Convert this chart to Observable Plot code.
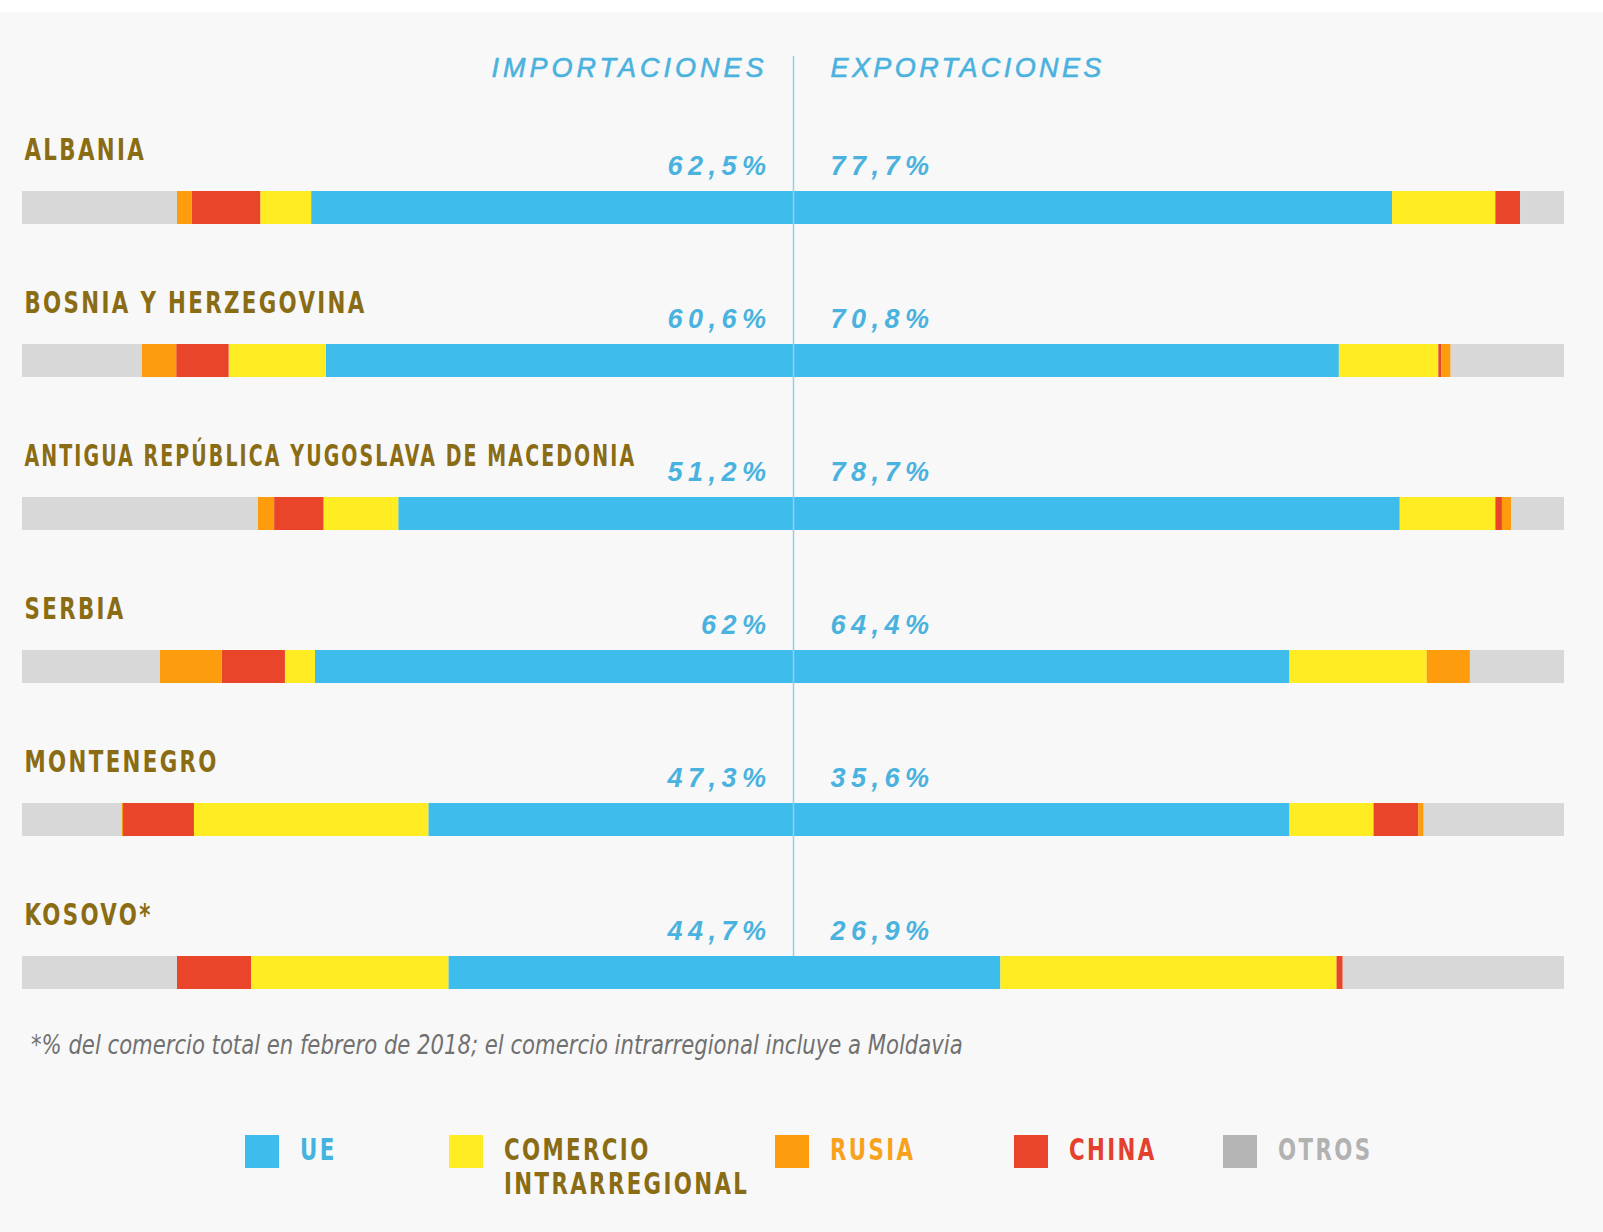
<!DOCTYPE html>
<html>
<head>
<meta charset="utf-8">
<script src="https://cdn.jsdelivr.net/npm/d3@7"></script>
<script src="https://cdn.jsdelivr.net/npm/@observablehq/plot@0.6"></script>
<style>
  html, body { margin: 0; padding: 0; }
  body {
    width: 1603px; height: 1232px; overflow: hidden; position: relative;
    background: linear-gradient(#ffffff 0 12px, #f8f8f8 12px);
  }
  #chart svg { display: block; }
  .foot {
    position: absolute; left: 31px; top: 1029px; line-height: 32px;
    font-family: "DejaVu Sans Condensed", "Liberation Sans Narrow", sans-serif;
    font-style: italic; font-size: 26px; color: #707070; white-space: nowrap;
    transform: scaleX(0.905); transform-origin: 0 50%;
  }
  .lg-sw { position: absolute; top: 1135px; width: 34px; height: 33px; }
  .lg-tx {
    position: absolute; top: 1133px; line-height: 34px; white-space: nowrap;
    font-family: "DejaVu Sans Condensed", "Liberation Sans Narrow", sans-serif;
    font-weight: bold; font-size: 30px; letter-spacing: 3px;
    transform: scaleX(0.79); transform-origin: 0 50%;
  }
</style>
</head>
<body>
<div id="chart"></div>
<div id="legend"></div>
<script>
// ---- data ----
const countries = [
  "ALBANIA",
  "BOSNIA Y HERZEGOVINA",
  "ANTIGUA REPÚBLICA YUGOSLAVA DE MACEDONIA",
  "SERBIA",
  "MONTENEGRO",
  "KOSOVO*"
];
const categories = ["UE", "Comercio intrarregional", "China", "Rusia", "Otros"];
const categoryColors = ["#3ebcec", "#ffec22", "#e8452a", "#fd9c0c", "#d8d8d8"];

// Importaciones (% of total), from centre outward
const importUE     = [62.5, 60.6, 51.2, 62.0, 47.3, 44.7];
const importIntra  = [ 6.6, 12.6,  9.7,  3.9, 30.4, 25.6];
const importChina  = [ 8.9,  6.8,  6.4,  8.2,  9.2,  9.6];
const importRusia  = [ 1.9,  4.5,  2.1,  8.0,  0.2,  0.0];
const importOtros  = [20.1, 15.5, 30.6, 17.9, 12.9, 20.1];

// Exportaciones (% of total), bar lengths as drawn
const exportUE     = [77.7, 70.8, 78.7, 64.4, 64.4, 26.9];
const exportIntra  = [13.4, 12.9, 12.4, 17.8, 10.9, 43.6];
const exportChina  = [ 3.2,  0.4,  0.85, 0.0,  5.8,  0.8];
const exportRusia  = [ 0.0,  1.2,  1.2,  5.6,  0.7,  0.0];
const exportOtros  = [ 5.7, 14.7,  6.85,12.2, 18.2, 28.7];

// Printed labels
const importLabels = ["62,5%", "60,6%", "51,2%", "62%", "47,3%", "44,7%"];
const exportLabels = ["77,7%", "70,8%", "78,7%", "64,4%", "35,6%", "26,9%"];

const sideHeaders = ["IMPORTACIONES", "EXPORTACIONES"];
const footnote = "*% del comercio total en febrero de 2018; el comercio intrarregional incluye a Moldavia";
const legendLabels = ["UE", "COMERCIO\nINTRARREGIONAL", "RUSIA", "CHINA", "OTROS"];
const legendTextColors = ["#45b3df", "#8a6c14", "#f7a11c", "#e4402e", "#b2b2b2"];
const legendSwatchColors = ["#3ebcec", "#ffec22", "#fd9c0c", "#e8452a", "#b4b4b4"];

// ---- build table ----
const impSeries = [importUE, importIntra, importChina, importRusia, importOtros];
const expSeries = [exportUE, exportIntra, exportChina, exportRusia, exportOtros];
const rows = [];
countries.forEach((c, i) => {
  categories.forEach((cat, k) => {
    rows.push({country: c, cat, side: "imp", value: -impSeries[k][i]});
    rows.push({country: c, cat, side: "exp", value: expSeries[k][i]});
  });
});
const labelRows = countries.map((c, i) => ({country: c, imp: importLabels[i], exp: exportLabels[i]}));

const blueText = "#4ab2de";
const olive = "#8a6c14";
const pctFont = "Liberation Sans, Arial, sans-serif";
const condFont = "DejaVu Sans Condensed, Liberation Sans Narrow, sans-serif";

const plot = Plot.plot({
  width: 1603,
  height: 1010,
  marginLeft: 22,
  marginRight: 39,
  marginTop: 0,
  marginBottom: 0,
  style: {background: "transparent", overflow: "visible"},
  x: {domain: [-100, 100], axis: null},
  y: {domain: countries, range: [131, 1049.6], padding: 0, axis: null},
  color: {domain: categories, range: categoryColors},
  marks: [
    Plot.barX(rows, Plot.stackX({
      x: "value", y: "country", fill: "cat", z: d => d.side + d.cat,
      order: null,
      insetTop: 60, insetBottom: 60
    })),
    Plot.ruleX([0], {stroke: "#94cfe8", strokeWidth: 1.5, insetTop: 56, insetBottom: 54}),
    // headers
    Plot.text([sideHeaders[0]], {x: () => 0, frameAnchor: "top", dy: 68, dx: -26, textAnchor: "end",
      lineAnchor: "middle", fill: blueText, stroke: blueText, strokeWidth: 0.6, fontSize: 27,
      fontStyle: "italic", fontFamily: pctFont}),
    Plot.text([sideHeaders[1]], {x: () => 0, frameAnchor: "top", dy: 68, dx: 37, textAnchor: "start",
      lineAnchor: "middle", fill: blueText, stroke: blueText, strokeWidth: 0.6, fontSize: 27,
      fontStyle: "italic", fontFamily: pctFont}),
    // country names
    Plot.text(countries, {y: d => d, frameAnchor: "left", dx: 2, dy: -58, textAnchor: "start",
      lineAnchor: "middle", fill: olive, fontSize: 30, fontWeight: "bold", fontFamily: condFont}),
    // percentages
    Plot.text(labelRows, {x: () => 0, y: "country", text: "imp", dx: -22, dy: -42, textAnchor: "end",
      lineAnchor: "middle", fill: blueText, fontSize: 27, fontWeight: "bold", fontStyle: "italic",
      fontFamily: pctFont}),
    Plot.text(labelRows, {x: () => 0, y: "country", text: "exp", dx: 37, dy: -42, textAnchor: "start",
      lineAnchor: "middle", fill: blueText, fontSize: 27, fontWeight: "bold", fontStyle: "italic",
      fontFamily: pctFont})
  ]
});
document.getElementById("chart").appendChild(plot);

// letter spacing per text group (in mark order)
const textGroups = plot.querySelectorAll('g[aria-label="text"]');
const spacings = [4, 3.4, 3, 5.5, 5.5];
textGroups.forEach((g, i) => { g.style.letterSpacing = spacings[i] + "px"; });

// condense the country names (condensed display face), fitting the long one before the percentages
const maxNameWidth = 612;
textGroups[2].querySelectorAll("text").forEach(t => {
  const w = t.getComputedTextLength();
  const s = Math.min(0.79, maxNameWidth / w);
  t.setAttribute("transform", (t.getAttribute("transform") || "") + ` scale(${s},1)`);
});

// ---- footnote & legend (HTML, below the SVG) ----
const foot = document.createElement("div");
foot.className = "foot";
foot.textContent = footnote;
document.body.appendChild(foot);

const swatchLeft = [245, 449, 775, 1014, 1223];
const legend = document.getElementById("legend");
legendLabels.forEach((lab, i) => {
  const sw = document.createElement("div");
  sw.className = "lg-sw";
  sw.style.left = swatchLeft[i] + "px";
  sw.style.background = legendSwatchColors[i];
  legend.appendChild(sw);
  const tx = document.createElement("div");
  tx.className = "lg-tx";
  tx.style.left = (swatchLeft[i] + 55) + "px";
  tx.style.color = legendTextColors[i];
  tx.innerHTML = lab.split("\n").join("<br>");
  legend.appendChild(tx);
});
</script>
</body>
</html>
